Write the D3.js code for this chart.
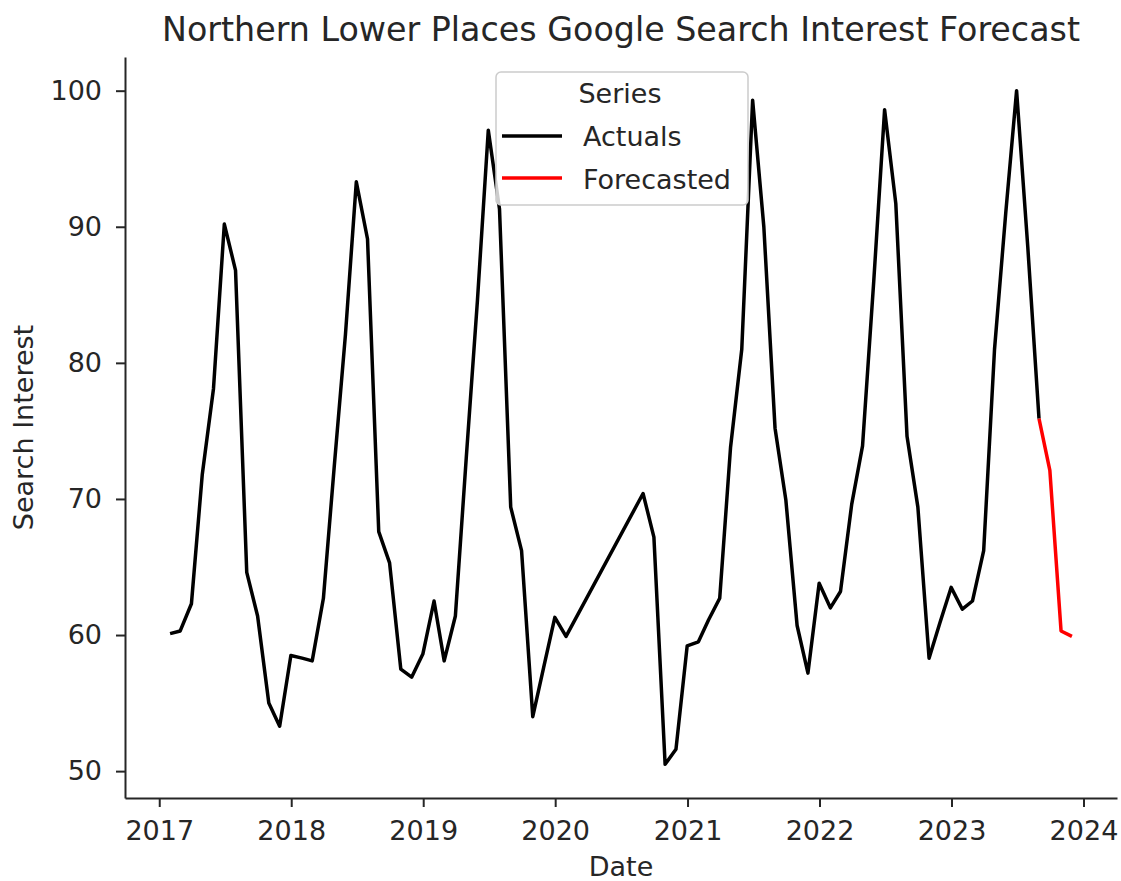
<!DOCTYPE html>
<html>
<head>
<meta charset="utf-8">
<script src="https://cdn.jsdelivr.net/npm/d3@7"></script>
<style>
  body { margin: 0; background: #fff; }
  text { font-family: "DejaVu Sans", sans-serif; fill: #262626; }
</style>
</head>
<body>
<div id="chart"></div>
<script>
// Monthly series (Feb-Jul 2020 missing in the source)
let actualMonths = [
  '2017-01', '2017-02', '2017-03', '2017-04', '2017-05', '2017-06', '2017-07', '2017-08', '2017-09', '2017-10', '2017-11', '2017-12',
  '2018-01', '2018-02', '2018-03', '2018-04', '2018-05', '2018-06', '2018-07', '2018-08', '2018-09', '2018-10', '2018-11', '2018-12',
  '2019-01', '2019-02', '2019-03', '2019-04', '2019-05', '2019-06', '2019-07', '2019-08', '2019-09', '2019-10', '2019-11', '2019-12',
  '2020-01', '2020-08', '2020-09', '2020-10', '2020-11', '2020-12',
  '2021-01', '2021-02', '2021-03', '2021-04', '2021-05', '2021-06', '2021-07', '2021-08', '2021-09', '2021-10', '2021-11', '2021-12',
  '2022-01', '2022-02', '2022-03', '2022-04', '2022-05', '2022-06', '2022-07', '2022-08', '2022-09', '2022-10', '2022-11', '2022-12',
  '2023-01', '2023-02', '2023-03', '2023-04', '2023-05', '2023-06', '2023-07', '2023-08'
]
let actualValues = [
  60.1, 60.3, 62.3, 71.8, 78.1, 90.2, 86.8, 64.6, 61.4, 55.0, 53.3, 58.5,
  58.3, 58.1, 62.7, 72.4, 82.1, 93.3, 89.1, 67.6, 65.3, 57.5, 56.9, 58.6,
  62.5, 58.1, 61.4, 73.0, 84.6, 97.1, 91.3, 69.4, 66.2, 54.0, 57.6, 61.3,
  59.9, 70.4, 67.2, 50.5, 51.6, 59.2,
  59.5, 61.1, 62.7, 73.8, 81.0, 99.3, 90.0, 75.2, 69.9, 60.7, 57.2, 63.8,
  62.0, 63.2, 69.6, 73.9, 86.0, 98.6, 91.7, 74.6, 69.4, 58.3, 60.9, 63.5,
  61.9, 62.5, 66.2, 81.0, 91.0, 100.0, 88.5, 75.9
]
let forecastMonths = ['2023-08', '2023-09', '2023-10', '2023-11']
let forecastValues = [75.9, 72.1, 60.3, 59.9]

let yTicks = [50, 60, 70, 80, 90, 100]
let seriesNames = ['Actuals', 'Forecasted']
let seriesColors = ['black', 'red']

const width = 1121, height = 881
const margin = { top: 57, right: 4, bottom: 83, left: 125 }
const fontSize = 27

// month string -> last day of that month (pandas style month-end)
const parseMonth = d3.timeParse('%Y-%m')
const monthEnd = (m) => d3.timeDay.offset(d3.timeMonth.offset(parseMonth(m), 1), -1)

const actual = actualMonths.map((m, i) => ({ date: monthEnd(m), value: actualValues[i] }))
const forecast = forecastMonths.map((m, i) => ({ date: monthEnd(m), value: forecastValues[i] }))
const all = actual.concat(forecast)

// matplotlib-like 5% margins
const xExt = d3.extent(all, d => d.date)
const xPad = (xExt[1] - xExt[0]) * 0.05
const yExt = d3.extent(all, d => d.value)
const yPad = (yExt[1] - yExt[0]) * 0.05

const x = d3.scaleTime()
  .domain([new Date(+xExt[0] - xPad), new Date(+xExt[1] + xPad)])
  .range([margin.left, width - margin.right])
const y = d3.scaleLinear()
  .domain([yExt[0] - yPad, yExt[1] + yPad])
  .range([height - margin.bottom, margin.top])

const svg = d3.select('#chart').append('svg')
  .attr('width', width)
  .attr('height', height)

// axes
const xAxis = svg.append('g')
  .attr('transform', `translate(0,${height - margin.bottom})`)
  .call(d3.axisBottom(x).ticks(d3.timeYear.every(1)).tickFormat(d3.timeFormat('%Y')).tickSize(9).tickSizeOuter(0).tickPadding(14))
const yAxis = svg.append('g')
  .attr('transform', `translate(${margin.left},0)`)
  .call(d3.axisLeft(y).tickValues(yTicks).tickSize(9).tickSizeOuter(0).tickPadding(14))

;[xAxis, yAxis].forEach(g => {
  g.select('.domain').attr('stroke', '#262626').attr('stroke-width', 2)
  g.selectAll('.tick line').attr('stroke', '#262626').attr('stroke-width', 2)
  g.selectAll('.tick text').attr('font-size', fontSize).attr('font-family', '"DejaVu Sans", sans-serif').attr('fill', '#262626')
})

// lines
const line = d3.line().x(d => x(d.date)).y(d => y(d.value))
svg.append('path')
  .datum(actual)
  .attr('d', line)
  .attr('fill', 'none')
  .attr('stroke', seriesColors[0])
  .attr('stroke-width', 3.5)
  .attr('stroke-linejoin', 'round')
svg.append('path')
  .datum(forecast)
  .attr('d', line)
  .attr('fill', 'none')
  .attr('stroke', seriesColors[1])
  .attr('stroke-width', 3.5)
  .attr('stroke-linejoin', 'round')

// title + axis labels
svg.append('text')
  .attr('x', (margin.left + width - margin.right) / 2)
  .attr('y', 41)
  .attr('text-anchor', 'middle')
  .attr('font-size', 33.3)
  .text('Northern Lower Places Google Search Interest Forecast')
svg.append('text')
  .attr('x', (margin.left + width - margin.right) / 2)
  .attr('y', 876)
  .attr('text-anchor', 'middle')
  .attr('font-size', fontSize)
  .text('Date')
svg.append('text')
  .attr('transform', `translate(33,${(margin.top + height - margin.bottom) / 2}) rotate(-90)`)
  .attr('text-anchor', 'middle')
  .attr('font-size', fontSize)
  .text('Search Interest')

// legend
const legend = svg.append('g').attr('transform', 'translate(496,72)')
legend.append('rect')
  .attr('width', 252)
  .attr('height', 133)
  .attr('rx', 5)
  .attr('fill', 'white')
  .attr('fill-opacity', 0.8)
  .attr('stroke', '#cccccc')
  .attr('stroke-width', 1.5)
legend.append('text')
  .attr('x', 124)
  .attr('y', 31)
  .attr('text-anchor', 'middle')
  .attr('font-size', fontSize)
  .text('Series')
seriesNames.forEach((name, i) => {
  legend.append('line')
    .attr('x1', 6).attr('x2', 66)
    .attr('y1', 64 + i * 42).attr('y2', 64 + i * 42)
    .attr('stroke', seriesColors[i])
    .attr('stroke-width', 3.5)
  legend.append('text')
    .attr('x', 87)
    .attr('y', 74 + i * 42.5)
    .attr('font-size', fontSize)
    .text(name)
})
</script>
</body>
</html>
